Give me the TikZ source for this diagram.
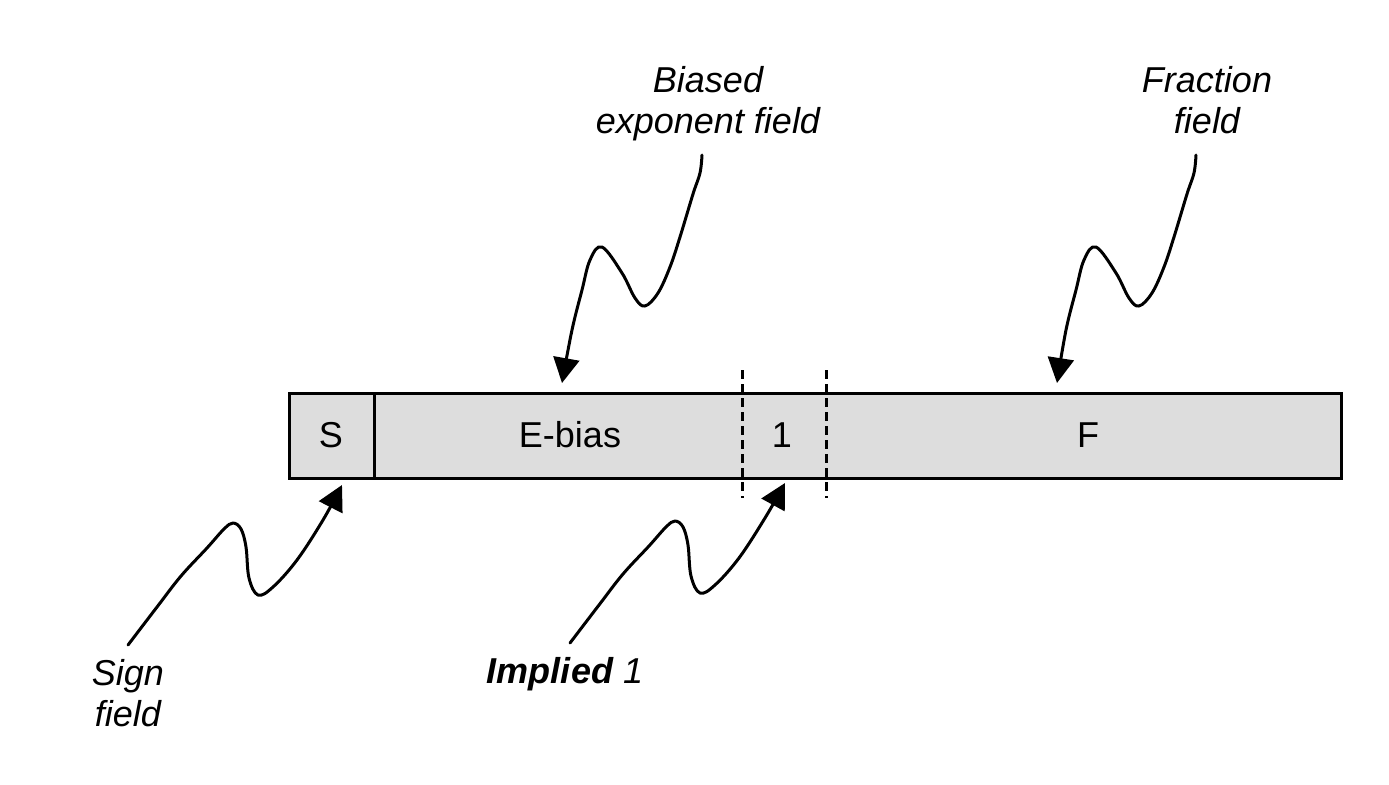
\documentclass[tikz,border=0pt]{standalone}
\usepackage{fontspec}
\setmainfont{Liberation Sans}
\usetikzlibrary{arrows.meta}
\definecolor{boxfill}{RGB}{221,221,221}
\begin{document}
\begin{tikzpicture}[x=0.5pt,y=-0.5pt,
  lbl/.style={font=\fontsize{18pt}{20.5pt}\selectfont\itshape, align=center, inner sep=0pt, anchor=north},
  fld/.style={font=\fontsize{18pt}{20.5pt}\selectfont, inner sep=0pt, anchor=base},
  barbox/.style={draw=black, line width=1.5pt, fill=boxfill, inner sep=0pt, outer sep=0pt, anchor=north west},
  sepline/.style={draw=black, line width=1.4pt},
  dsep/.style={draw=black, line width=1.5pt, dash pattern=on 4.5pt off 2.5pt},
  wig/.style={line width=1.5pt, line cap=round, line join=round, -{Triangle[length=12.5pt,width=13pt]}}]
\useasboundingbox (0,0) rectangle (1389,784);
\fill[white] (0,0) rectangle (1389,784);
% bar
\node[barbox, minimum width=525.75pt, minimum height=42.5pt] (bar) at (289.5,393.5) {};
\draw[sepline] (374.5,393.5) -- (374.5,478.5);
\draw[dsep] (742,370) -- (742,498);
\draw[dsep] (826.5,370) -- (826.5,498);
% field texts
\node[fld] (s) at (331,447) {S};
\node[fld] (e) at (570,447) {E-bias};
\node[fld] (one) at (782,447) {1};
\node[fld] (f) at (1088,447) {F};
% labels
\node[lbl] (sgn) at (128,659) {Sign\\field};
\node[lbl] (bexp) at (708,66) {Biased\\exponent field};
\node[lbl] (frac) at (1207,66) {Fraction\\field};
\node[lbl, anchor=base] (impl) at (565,683) {{\bfseries Implied} 1};
% arrow end points
\coordinate (sgnS) at (128,645);   \coordinate (sgnT) at (342,485);
\coordinate (implS) at (570,643);  \coordinate (implT) at (785,483);
\coordinate (bexpS) at (702,155);  \coordinate (bexpT) at (562,383);
\coordinate (fracS) at (1196,155); \coordinate (fracT) at (1057,383);
% wiggly arrows
\draw[wig] plot[smooth,tension=0.6] coordinates {(sgnS) (157,607) (181,576) (207,548) (224,529) (233,523) (241,529) (246,547) (249,578) (258,595) (273,587) (297,560) (323,520) (sgnT)};
\draw[wig] plot[smooth,tension=0.6] coordinates {(implS) (599,605) (623,574) (649,546) (666,527) (675,521) (683,527) (688,545) (691,576) (700,593) (715,585) (739,558) (765,518) (implT)};
\draw[wig] plot[smooth,tension=0.6] coordinates {(bexpS) (700,173) (693,194) (680,237) (670,267) (658,293) (645,306) (635,298) (622,273) (602,247) (590,260) (582,290) (572,330) (bexpT)};
\draw[wig] plot[smooth,tension=0.6] coordinates {(fracS) (1194,173) (1187,194) (1174,237) (1164,267) (1152,293) (1139,306) (1129,298) (1116,273) (1096,247) (1084,260) (1076,290) (1066,330) (fracT)};
\end{tikzpicture}
\end{document}
